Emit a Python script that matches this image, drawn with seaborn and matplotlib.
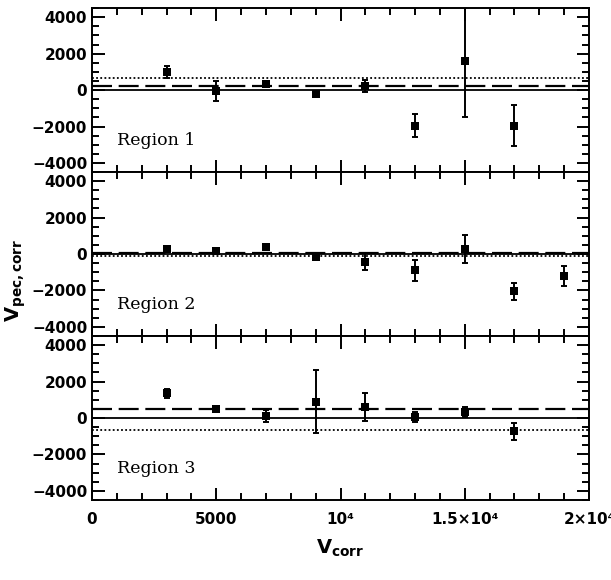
import numpy as np
import pandas as pd
import seaborn as sns
import matplotlib.pyplot as plt
from matplotlib.ticker import MultipleLocator, FixedLocator, FixedFormatter

# data: bin centre, peculiar velocity, error
x1 = [3000, 5000, 7000, 9000, 11000, 13000, 15000, 17000]
y1 = [1000, -40, 360, -220, 230, -1960, 1580, -1960]
e1 = [310, 560, 80, 100, 320, 640, 3080, 1130]

x2 = [3000, 5000, 7000, 9000, 11000, 13000, 15000, 17000, 19000]
y2 = [270, 140, 400, -170, -420, -900, 270, -2050, -1200]
e2 = [80, 60, 80, 60, 450, 560, 770, 480, 550]

x3 = [3000, 5000, 7000, 9000, 11000, 13000, 15000, 17000]
y3 = [1350, 490, 130, 900, 590, 40, 310, -730]
e3 = [230, 70, 330, 1740, 780, 280, 280, 470]

# horizontal reference levels (dashed, dotted) per region
dashed = [250, 50, 490]
dotted = [640, -100, -660]
regions = ['Region 1', 'Region 2', 'Region 3']

xticks = [0, 5000, 10000, 15000, 20000]
xlabels = ['0', '5000', '10⁴', '1.5×10⁴', '2×10⁴']
yticks = [-4000, -2000, 0, 2000, 4000]

sns.set_style('ticks')
plt.rcParams['font.family'] = ['DejaVu Sans']
plt.rcParams['mathtext.default'] = 'bf'
plt.rcParams.update({'text.color': 'black', 'axes.edgecolor': 'black',
                     'xtick.color': 'black', 'ytick.color': 'black',
                     'axes.labelcolor': 'black'})

fig, axes = plt.subplots(3, 1, figsize=(6.11, 5.8), dpi=100, sharex=True)
fig.subplots_adjust(left=0.1506, right=0.964, top=0.986, bottom=0.138, hspace=0)

data = [(x1, y1, e1), (x2, y2, e2), (x3, y3, e3)]
for i, ax in enumerate(axes):
    xs, ys, es = data[i]
    df = pd.DataFrame({'v': xs, 'vp': ys, 'err': es})
    ax.axhline(0, color='black', lw=1.3)
    ax.axhline(dashed[i], color='black', lw=1.6, ls=(0, (9, 3)))
    ax.axhline(dotted[i], color='black', lw=1.3, ls=(0, (1, 1.3)))
    ax.errorbar(df['v'], df['vp'], yerr=df['err'], fmt='none', ecolor='black',
                elinewidth=1.4, capsize=2.5, capthick=1.4)
    sns.scatterplot(data=df, x='v', y='vp', marker='s', s=40, color='black',
                    edgecolor='black', linewidth=0, ax=ax, zorder=5)
    ax.set_xlim(0, 20000)
    ax.set_ylim(-4500, 4500)
    ax.set_xlabel('')
    ax.set_ylabel('')
    ax.yaxis.set_major_locator(FixedLocator(yticks))
    ax.yaxis.set_minor_locator(MultipleLocator(500))
    ax.xaxis.set_major_locator(FixedLocator(xticks))
    ax.xaxis.set_minor_locator(MultipleLocator(1000))
    ax.tick_params(which='both', direction='in', top=True, right=True, width=1.4)
    ax.tick_params(which='major', length=9, labelsize=11)
    ax.tick_params(which='minor', length=5)
    for lab in ax.get_yticklabels():
        lab.set_fontweight('bold')
    for sp in ax.spines.values():
        sp.set_linewidth(1.4)
    ax.text(1000, -3000, regions[i], family='DejaVu Serif', fontsize=12.5,
            va='baseline', ha='left')

axes[-1].xaxis.set_major_formatter(FixedFormatter(xlabels))
for lab in axes[-1].get_xticklabels():
    lab.set_fontweight('bold')
axes[-1].tick_params(axis='x', pad=9)

fig.text(0.026, 1 - 280 / 580, r'$V_{pec,corr}$', rotation=90, fontsize=14,
         ha='center', va='center')
fig.text(340.5 / 611, 1 - 548 / 580, r'$V_{corr}$', fontsize=14,
         ha='center', va='center')

fig.savefig('out.png', dpi=100)
